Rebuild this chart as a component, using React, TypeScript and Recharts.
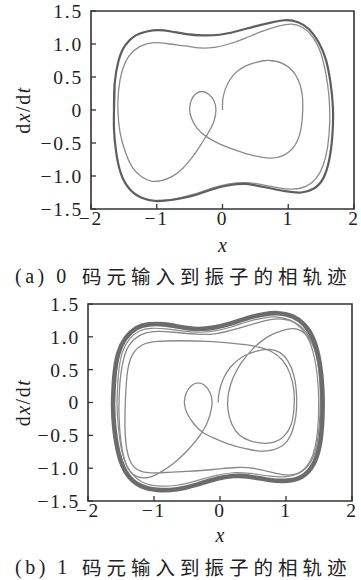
import React from "react";
import { LineChart, Line, XAxis, YAxis, ReferenceArea } from "recharts";

type Pt = [number, number];

const SERIF = "Liberation Serif, DejaVu Serif, serif";
const CJK = "Noto Sans CJK SC, sans-serif";

const X_TICKS = [-2, -1, 0, 1, 2];
const Y_TICKS = [-1.5, -1, -0.5, 0, 0.5, 1, 1.5];

// (a) 0 码元: transient from the origin, then the limit cycle
const A_START: Pt[] = [
  [0.0, 0.0], [0.01, 0.2], [0.09, 0.42], [0.24, 0.6], [0.47, 0.71], [0.72, 0.75],
  [0.96, 0.68], [1.13, 0.5], [1.21, 0.25], [1.22, 0.0], [1.19, -0.3], [1.09, -0.55],
  [0.92, -0.69], [0.72, -0.73], [0.47, -0.69], [0.21, -0.61], [-0.03, -0.52],
  [-0.25, -0.4], [-0.39, -0.27], [-0.47, -0.13], [-0.5, 0.02], [-0.47, 0.16],
  [-0.4, 0.25], [-0.31, 0.28], [-0.21, 0.24], [-0.13, 0.14], [-0.1, 0.0],
  [-0.13, -0.17], [-0.19, -0.3], [-0.25, -0.4], [-0.35, -0.56], [-0.47, -0.73],
  [-0.61, -0.89], [-0.77, -1.01], [-0.93, -1.07], [-1.07, -1.08], [-1.22, -1.02],
  [-1.37, -0.87], [-1.48, -0.63], [-1.56, -0.33], [-1.59, 0.0], [-1.58, 0.3],
  [-1.53, 0.58], [-1.42, 0.82], [-1.26, 0.96], [-1.05, 1.02], [-0.8, 1.0],
  [-0.56, 0.97], [-0.34, 0.94], [-0.12, 0.95], [0.1, 1.0], [0.35, 1.09],
  [0.6, 1.19], [0.85, 1.27], [1.05, 1.3], [1.22, 1.25], [1.37, 1.11], [1.49, 0.88],
  [1.57, 0.56], [1.62, 0.2], [1.63, -0.2], [1.6, -0.55], [1.53, -0.84],
  [1.42, -1.04], [1.26, -1.16], [1.06, -1.2], [0.85, -1.18], [0.6, -1.13],
  [0.35, -1.1], [0.1, -1.12], [-0.15, -1.18], [-0.45, -1.28], [-0.75, -1.35],
  [-1.0, -1.37],
];

const A_CYCLE: Pt[] = [
  [-1.65, 0.0], [-1.64, 0.4], [-1.58, 0.75], [-1.48, 0.98], [-1.32, 1.13],
  [-1.15, 1.19], [-0.98, 1.21], [-0.78, 1.19], [-0.55, 1.15], [-0.3, 1.13],
  [-0.05, 1.14], [0.2, 1.19], [0.47, 1.26], [0.72, 1.32], [0.95, 1.36],
  [1.15, 1.33], [1.32, 1.22], [1.46, 1.03], [1.57, 0.77], [1.64, 0.43],
  [1.68, 0.03], [1.67, -0.4], [1.62, -0.77], [1.53, -1.04], [1.39, -1.19],
  [1.2, -1.25], [0.95, -1.23], [0.65, -1.17], [0.35, -1.12], [0.1, -1.14],
  [-0.15, -1.2], [-0.45, -1.3], [-0.75, -1.36], [-1.0, -1.38], [-1.23, -1.33],
  [-1.42, -1.19], [-1.55, -0.95], [-1.62, -0.62], [-1.65, -0.3], [-1.65, 0.0],
  [-1.64, 0.4],
];

// (b) 1 码元
const B_START: Pt[] = [
  [-0.03, 0.0], [-0.01, 0.17], [0.05, 0.36], [0.16, 0.54], [0.33, 0.69],
  [0.54, 0.78], [0.75, 0.81], [0.91, 0.76], [1.03, 0.63], [1.12, 0.41],
  [1.16, 0.11], [1.15, -0.2], [1.09, -0.45], [0.98, -0.63], [0.8, -0.72],
  [0.6, -0.74], [0.37, -0.7], [0.12, -0.63], [-0.1, -0.54], [-0.27, -0.45],
  [-0.4, -0.32], [-0.5, -0.16], [-0.54, 0.0], [-0.51, 0.15], [-0.43, 0.26],
  [-0.33, 0.3], [-0.23, 0.26], [-0.15, 0.15], [-0.12, 0.0], [-0.15, -0.18],
  [-0.2, -0.32], [-0.27, -0.45], [-0.38, -0.6], [-0.53, -0.77], [-0.72, -0.94],
  [-0.9, -1.06], [-1.08, -1.14], [-1.27, -1.12], [-1.42, -0.95], [-1.5, -0.6],
  [-1.53, -0.2], [-1.52, 0.25], [-1.47, 0.62], [-1.37, 0.88], [-1.2, 1.03],
  [-1.0, 1.08], [-0.7, 1.07], [-0.35, 1.04], [-0.05, 1.05], [0.25, 1.12],
  [0.55, 1.21], [0.82, 1.27], [1.05, 1.25], [1.25, 1.13], [1.4, 0.9],
  [1.49, 0.55], [1.52, 0.1], [1.5, -0.4], [1.43, -0.78], [1.3, -1.0],
  [1.1, -1.1], [0.85, -1.08], [0.55, -1.01], [0.25, -0.99], [-0.1, -1.02],
  [-0.5, -1.05], [-0.9, -1.07], [-1.15, -1.06], [-1.32, -0.96], [-1.41, -0.72],
  [-1.44, -0.35], [-1.43, 0.1], [-1.4, 0.48], [-1.32, 0.74], [-1.17, 0.88],
  [-0.95, 0.93], [-0.6, 0.94], [-0.2, 0.93], [0.2, 0.9], [0.52, 0.86],
  [0.77, 0.78], [0.95, 0.64], [1.06, 0.44], [1.12, 0.18], [1.12, -0.1],
  [1.08, -0.33], [0.98, -0.5], [0.83, -0.6], [0.64, -0.62], [0.45, -0.58],
  [0.29, -0.49], [0.18, -0.33], [0.12, -0.1], [0.13, 0.15], [0.2, 0.38],
  [0.32, 0.6], [0.5, 0.82], [0.72, 1.0], [0.95, 1.1], [1.15, 1.12],
  [1.33, 1.0], [1.45, 0.75], [1.53, 0.4],
];

// one of the passes lying just inside the dense band
const B_RING: Pt[] = [
  [-1.56, 0.0], [-1.54, 0.42], [-1.48, 0.76], [-1.37, 0.97], [-1.22, 1.09],
  [-1.04, 1.13], [-0.82, 1.12], [-0.58, 1.09], [-0.33, 1.07], [-0.08, 1.09],
  [0.17, 1.15], [0.42, 1.23], [0.67, 1.29], [0.88, 1.3], [1.07, 1.25],
  [1.23, 1.13], [1.36, 0.92], [1.45, 0.58], [1.49, 0.2], [1.49, -0.25],
  [1.45, -0.63], [1.36, -0.9], [1.2, -1.07], [1.0, -1.13], [0.75, -1.12],
  [0.45, -1.08], [0.2, -1.07], [-0.05, -1.11], [-0.35, -1.19], [-0.65, -1.26],
  [-0.95, -1.27], [-1.18, -1.21], [-1.36, -1.05], [-1.48, -0.77], [-1.54, -0.38],
  [-1.56, 0.0], [-1.54, 0.42],
];

const B_CYCLE: Pt[] = [
  [-1.62, 0.0], [-1.6, 0.4], [-1.54, 0.75], [-1.43, 0.98], [-1.27, 1.13],
  [-1.08, 1.19], [-0.85, 1.19], [-0.6, 1.15], [-0.35, 1.12], [-0.1, 1.14],
  [0.15, 1.2], [0.4, 1.28], [0.65, 1.34], [0.88, 1.36], [1.1, 1.31],
  [1.28, 1.18], [1.42, 0.95], [1.51, 0.6], [1.55, 0.2], [1.55, -0.25],
  [1.51, -0.65], [1.41, -0.95], [1.24, -1.13], [1.02, -1.19], [0.75, -1.18],
  [0.45, -1.13], [0.2, -1.12], [-0.05, -1.16], [-0.35, -1.25], [-0.65, -1.32],
  [-0.95, -1.33], [-1.2, -1.27], [-1.4, -1.1], [-1.53, -0.8], [-1.6, -0.4],
  [-1.62, 0.0], [-1.6, 0.4],
];

const rows = (pts: Pt[]) => pts.map(([x, y]) => ({ x, y }));

const fmtX = (v: number) => (v < 0 ? "\u2212" : "") + Math.abs(v);
const fmtY = (v: number) =>
  v === 0 ? "0" : (v < 0 ? "\u2212" : "") + Math.abs(v).toFixed(1);

const tickStyle = { fontFamily: SERIF, fontSize: 19.5, fill: "#222", letterSpacing: 1.8 };

type Track = { pts: Pt[]; stroke: string; width: number };

function Panel(props: {
  top: number;
  plotTop: number;
  plotBottom: number;
  plotLeft: number;
  plotRight: number;
  tracks: Track[];
  tag: string;
  captionTop: number;
}) {
  const H = 262;
  const { plotTop, plotBottom, plotLeft, plotRight } = props;
  const midY = (plotTop + plotBottom) / 2;
  const midX = (plotLeft + plotRight) / 2;
  return (
    <>
      <div style={{ position: "absolute", left: 0, top: props.top }}>
        <LineChart
          width={361}
          height={H}
          margin={{ top: plotTop, right: 361 - plotRight, left: 0, bottom: 0 }}
        >
          <XAxis
            type="number"
            dataKey="x"
            domain={[-2, 2]}
            ticks={X_TICKS}
            tickFormatter={fmtX}
            allowDataOverflow
            height={H - plotBottom}
            axisLine={false}
            tickSize={-5}
            tickMargin={7}
            tickLine={{ stroke: "#333", strokeWidth: 1.3 }}
            tick={tickStyle}
            interval={0}
            label={() => (
              <text
                x={midX}
                y={252}
                textAnchor="middle"
                fontFamily={SERIF}
                fontSize={20}
                fontStyle="italic"
                fill="#222"
              >
                x
              </text>
            )}
          />
          <YAxis
            type="number"
            dataKey="y"
            domain={[-1.5, 1.5]}
            ticks={Y_TICKS}
            tickFormatter={fmtY}
            allowDataOverflow
            width={plotLeft}
            axisLine={false}
            tickSize={-5}
            tickMargin={13}
            tickLine={{ stroke: "#333", strokeWidth: 1.3 }}
            tick={tickStyle}
            interval={0}
            label={() => (
              <text
                x={23}
                y={midY}
                transform={`rotate(-90, 23, ${midY})`}
                textAnchor="middle"
                dominantBaseline="central"
                fontFamily={SERIF}
                fontSize={20}
                letterSpacing={1.5}
                fill="#222"
              >
                d<tspan fontStyle="italic">x</tspan>/d<tspan fontStyle="italic">t</tspan>
              </text>
            )}
          />
          {props.tracks.map((t, i) => (
            <Line
              key={i}
              data={rows(t.pts)}
              dataKey="y"
              type="natural"
              stroke={t.stroke}
              strokeWidth={t.width}
              dot={false}
              activeDot={false}
              legendType="none"
              isAnimationActive={false}
            />
          ))}
          <ReferenceArea
            x1={-2}
            x2={2}
            y1={-1.5}
            y2={1.5}
            fill="none"
            fillOpacity={0}
            stroke="#333"
            strokeWidth={1.6}
          />
        </LineChart>
      </div>
      <div
        style={{
          position: "absolute",
          left: 15,
          top: props.captionTop,
          fontFamily: SERIF,
          fontSize: 20,
          letterSpacing: 3.5,
          lineHeight: "20px",
          color: "#222",
          whiteSpace: "nowrap",
        }}
      >
        {props.tag}
      </div>
      <div
        style={{
          position: "absolute",
          left: 82,
          top: props.captionTop,
          fontFamily: CJK,
          fontSize: 19.5,
          letterSpacing: 5,
          lineHeight: "20px",
          color: "#222",
          whiteSpace: "nowrap",
        }}
      >
        码元输入到振子的相轨迹
      </div>
    </>
  );
}

export default function App() {
  return (
    <div
      style={{
        position: "absolute",
        left: 0,
        top: 0,
        width: 361,
        height: 580,
        background: "#fff",
        overflow: "hidden",
      }}
    >
      <Panel
        top={0}
        plotTop={11}
        plotBottom={209}
        plotLeft={91}
        plotRight={354}
        tag="(a) 0"
        captionTop={266}
        tracks={[
          { pts: A_START, stroke: "#8a8a8a", width: 1.3 },
          { pts: A_CYCLE, stroke: "#5e5e5e", width: 2.2 },
        ]}
      />
      <Panel
        top={290}
        plotTop={14}
        plotBottom={211}
        plotLeft={88}
        plotRight={352}
        tag="(b) 1"
        captionTop={557}
        tracks={[
          { pts: B_START, stroke: "#888", width: 1.3 },
          { pts: B_RING, stroke: "#8c8c8c", width: 1.2 },
          { pts: B_CYCLE, stroke: "#6c6c6c", width: 4.6 },
        ]}
      />
    </div>
  );
}
